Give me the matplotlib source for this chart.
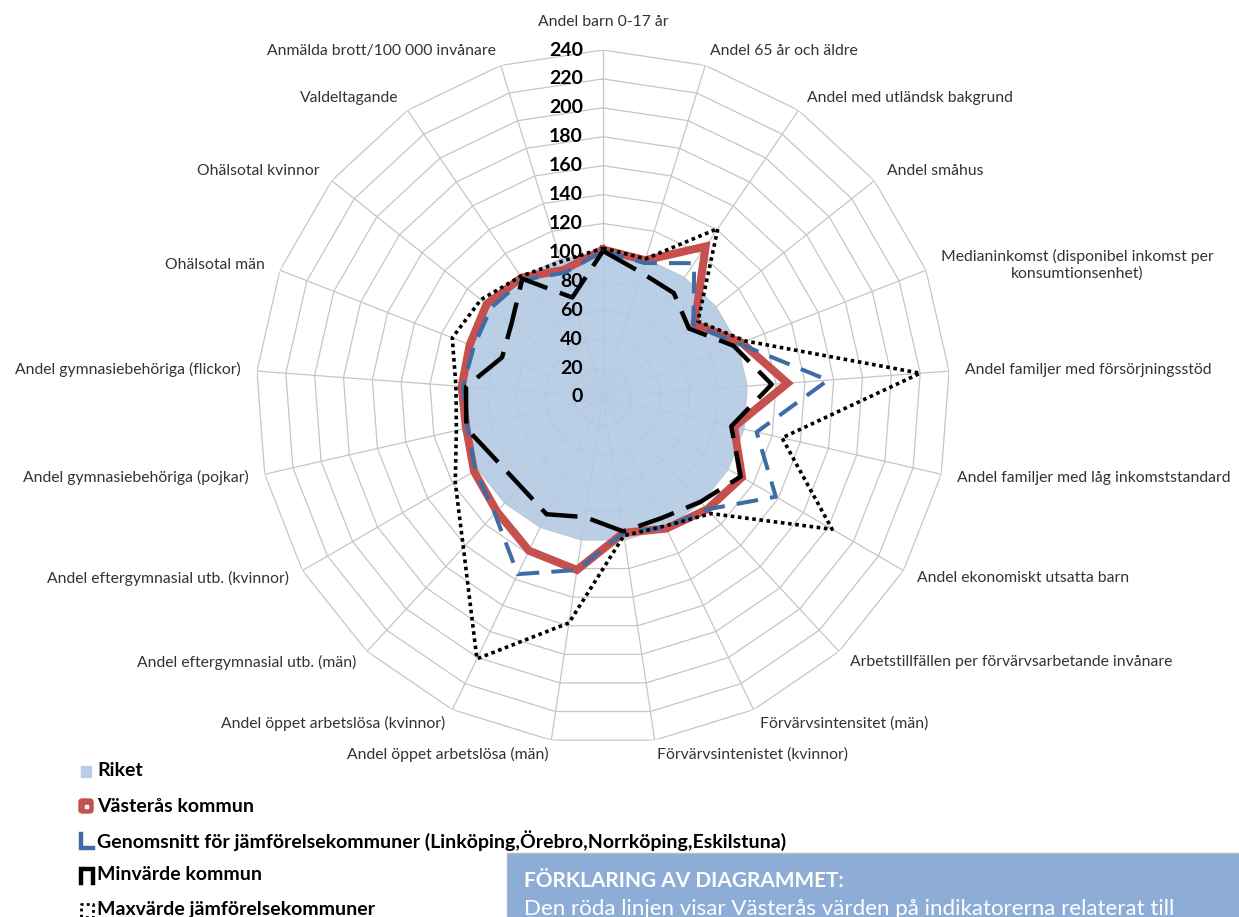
import numpy as np
import matplotlib
matplotlib.use('Agg')
import matplotlib.pyplot as plt
from matplotlib.patches import Rectangle, FancyBboxPatch
from matplotlib.lines import Line2D

categories = [
    "Andel barn 0-17 år",
    "Andel 65 år och äldre",
    "Andel med utländsk bakgrund",
    "Andel småhus",
    "Medianinkomst (disponibel inkomst per\nkonsumtionsenhet)",
    "Andel familjer med försörjningsstöd",
    "Andel familjer med låg inkomststandard",
    "Andel ekonomiskt utsatta barn",
    "Arbetstillfällen per förvärvsarbetande invånare",
    "Förvärvsintensitet (män)",
    "Förvärvsintenistet (kvinnor)",
    "Andel öppet arbetslösa (män)",
    "Andel öppet arbetslösa (kvinnor)",
    "Andel eftergymnasial utb. (män)",
    "Andel eftergymnasial utb. (kvinnor)",
    "Andel gymnasiebehöriga (pojkar)",
    "Andel gymnasiebehöriga (flickor)",
    "Ohälsotal män",
    "Ohälsotal kvinnor",
    "Valdeltagande",
    "Anmälda brott/100 000 invånare",
]

riket = [100, 100, 100, 100, 100, 100, 100, 100, 100, 100, 100,
         100, 100, 100, 100, 100, 100, 100, 100, 100, 100]
vasteras = [102, 99, 126, 81, 103, 128, 93, 111, 106, 101, 95,
            121, 118, 108, 103, 97, 98, 99, 103, 100, 92]
genomsnitt = [101, 97, 112, 80, 101, 156, 109, 138, 106, 100, 95,
              121, 136, 110, 102, 96, 97, 96, 99, 98, 90]
minvarde = [101, 90, 87, 76, 97, 117, 91, 110, 99, 93, 94,
            84, 90, 84, 86, 97, 95, 75, 81, 99, 72]
maxvarde = [103, 100, 141, 84, 106, 220, 127, 183, 110, 99, 97,
            158, 201, 142, 118, 104, 102, 112, 108, 101, 98]

r_ticks = [0, 20, 40, 60, 80, 100, 120, 140, 160, 180, 200, 220, 240]

legend_labels = [
    "Riket",
    "Västerås kommun",
    "Genomsnitt för jämförelsekommuner (Linköping,Örebro,Norrköping,Eskilstuna)",
    "Minvärde kommun",
    "Maxvärde jämförelsekommuner",
]

box_title = "FÖRKLARING AV DIAGRAMMET:"
box_text = "Den röda linjen visar Västerås värden på indikatorerna relaterat till"

FONT = 'Lato'
plt.rcParams['font.family'] = [FONT, 'DejaVu Sans']

W, H = 1239, 917
fig = plt.figure(figsize=(W / 100, H / 100), dpi=100)
cx, cy, R = 603, 397, 347
ax = fig.add_axes([(cx - R) / W, (H - cy - R) / H, 2 * R / W, 2 * R / H],
                  projection='polar')
ax.set_theta_zero_location('N')
ax.set_theta_direction(-1)
ax.set_ylim(0, r_ticks[-1])
ax.grid(False)
ax.set_xticks([])
ax.set_yticks([])
ax.spines['polar'].set_visible(False)
ax.patch.set_alpha(0)

n = len(categories)
theta = np.arange(n) * 2 * np.pi / n
tc = np.append(theta, theta[0])


def closed(v):
    v = list(v)
    return v + [v[0]]


grid_c = '#C6C6C6'
for lv in r_ticks[1:]:
    ax.plot(tc, [lv] * (n + 1), color=grid_c, lw=0.9, zorder=1)
for t in theta:
    ax.plot([t, t], [0, r_ticks[-1]], color=grid_c, lw=0.9, zorder=1)

# Riket fill
ax.fill(tc, closed(riket), color='#B3C9E3', alpha=0.9, lw=0, zorder=1.5)

# tick labels
for lv in r_ticks:
    ax.annotate(str(lv), xy=(0, lv), xytext=(-20, 0), textcoords='offset pixels',
                ha='right', va='center', fontsize=14, fontweight='bold',
                color='black', zorder=1.6)

# series
ax.plot(tc, closed(vasteras), color='#C5504D', lw=5.8, zorder=3,
        solid_joinstyle='miter')
ax.plot(tc, closed(genomsnitt), color='#3D6CA6', lw=2.9, zorder=4,
        linestyle=(0, (5.4, 3.0)), dash_capstyle='butt')
ax.plot(tc, closed(minvarde), color='black', lw=3.2, zorder=5,
        linestyle=(0, (8.5, 3.0)), dash_capstyle='butt')
ax.plot(tc, closed(maxvarde), color='black', lw=2.6, zorder=6,
        linestyle=(0, (1, 1)), dash_capstyle='butt')

# category labels
for i, (t, lab) in enumerate(zip(theta, categories)):
    s, c = np.sin(t), np.cos(t)
    if i == 0:
        off = (0, 28)
        ha = 'center'
    else:
        off = (16 * s, 15 * c)
        ha = 'left' if s > 0 else 'right'
    ax.annotate(lab, xy=(t, r_ticks[-1]), xytext=off, textcoords='offset pixels',
                ha=ha, va='center', fontsize=11.3, color='#333333',
                multialignment='center', annotation_clip=False)

# legend (manual)
def fx(x):
    return x / W


def fy(y):
    return 1 - y / H


leg_y = [771, 806, 841, 875, 910]
for yy, lab in zip(leg_y, legend_labels):
    fig.text(fx(97), fy(yy), lab, ha='left', va='center', fontsize=14,
             fontweight='bold', color='black')

# glyphs
fig.add_artist(Rectangle((fx(81), fy(777)), 10 / W, 11 / H, color='#B9CDE5',
                         transform=fig.transFigure))
fig.add_artist(FancyBboxPatch((fx(79), fy(813)), 14 / W, 14 / H,
                              boxstyle='round,pad=0,rounding_size=0.003',
                              color='#C5504D', transform=fig.transFigure))
fig.add_artist(Rectangle((fx(85), fy(807.5)), 3 / W, 3 / H, color='white',
                         transform=fig.transFigure))
fig.add_artist(Line2D([fx(81), fx(81), fx(93)], [fy(834), fy(848), fy(848)],
                      color='#3D6CA6', lw=3.2, transform=fig.transFigure,
                      solid_joinstyle='miter'))
fig.add_artist(Line2D([fx(81), fx(81), fx(93), fx(93)],
                      [fy(883), fy(869), fy(869), fy(883)],
                      color='black', lw=3.2, transform=fig.transFigure,
                      solid_joinstyle='miter'))
fig.add_artist(Line2D([fx(81), fx(81), fx(93), fx(93), fx(81)],
                      [fy(917), fy(904), fy(904), fy(917), fy(917)],
                      color='black', lw=2.0, linestyle=(0, (1, 1.2)),
                      transform=fig.transFigure))

# explanation box
fig.add_artist(Rectangle((fx(507), fy(930)), (W - 507 + 20) / W, (930 - 853) / H,
                         facecolor='#8DADD6', edgecolor='#B0B8C4', lw=1,
                         transform=fig.transFigure))
fig.text(fx(524), fy(881), box_title, ha='left', va='center', fontsize=15,
         fontweight='bold', color='white')
fig.text(fx(524), fy(909), box_text, ha='left', va='center', fontsize=16,
         color='white')

fig.savefig('out.png', dpi=100)
